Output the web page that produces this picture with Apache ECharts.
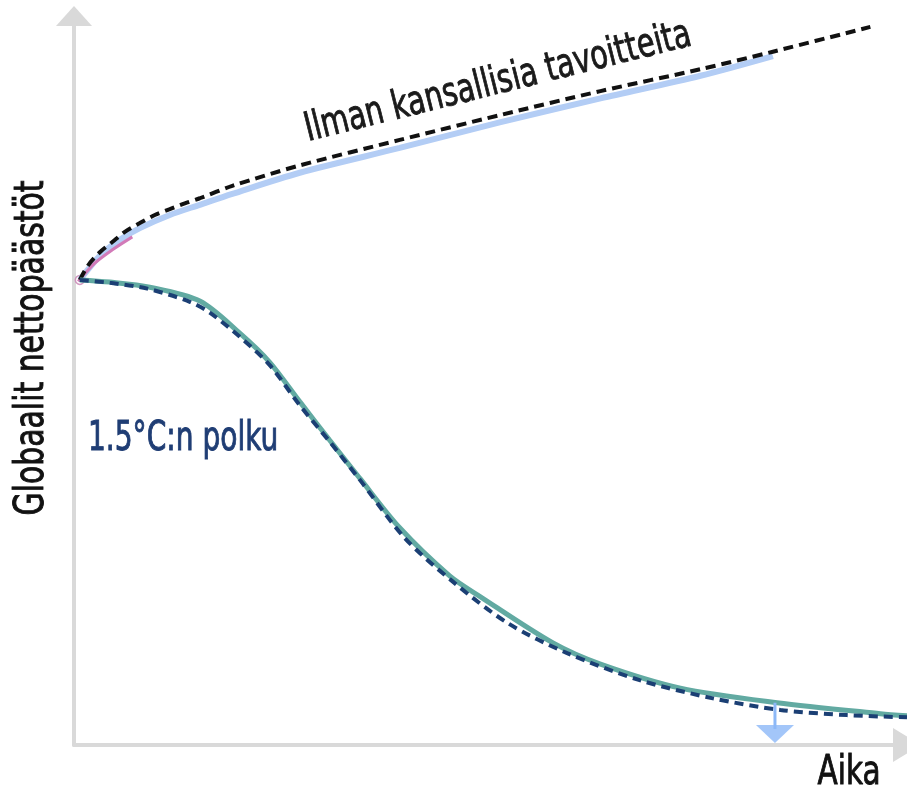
<!DOCTYPE html>
<html>
<head>
<meta charset="utf-8">
<script src="https://cdn.jsdelivr.net/npm/echarts@6/dist/echarts.min.js"></script>
<style>html,body{margin:0;padding:0;background:#fff}#c{width:907px;height:793px}</style>
</head>
<body>
<div id="c"></div>
<script>
// Texts
const xAxisName = 'Aika';
const yAxisName = 'Globaalit nettopäästöt';
const upperLabel = 'Ilman kansallisia tavoitteita';
const lowerLabel = '1.5°C:n polku';

// "No national targets" path (dashed black)
const noTargetX = [0.7, 1.7, 3.1, 4.6, 6.1, 7.9, 9.7, 11.5, 13.3, 15.1, 19.0, 27.1, 39.1, 51.1, 63.2, 75.2, 83.9, 95.6];
const noTargetY = [63.8, 65.8, 67.6, 69.0, 70.4, 71.6, 72.7, 73.5, 74.3, 75.0, 76.7, 79.5, 83.0, 86.4, 89.7, 92.7, 95.1, 98.5];
// light blue scenario band beneath it
const blueX = [0.7, 3.1, 5.5, 7.9, 11.5, 15.1, 19.0, 27.1, 39.1, 51.1, 63.2, 75.2, 83.9];
const blueY = [63.8, 67.1, 69.3, 70.9, 72.7, 74.1, 75.6, 78.5, 81.9, 85.4, 88.7, 91.8, 94.5];
// short pink scenario
const pinkX = [0.5, 2.5, 4.7, 7.0];
const pinkY = [63.6, 66.1, 68.0, 69.7];

// 1.5 °C pathway: teal band and dashed navy line
const tealX = [0.7, 4.3, 9.1, 15.1, 19.9, 23.5, 27.1, 30.7, 34.3, 39.1, 45.1, 48.7, 57.5, 63.2, 72.8, 84.4, 96.8, 100];
const tealY = [63.8, 63.5, 62.8, 60.9, 56.5, 52.5, 47.1, 41.8, 36.6, 29.8, 23.2, 20.4, 14.0, 11.1, 7.8, 5.8, 4.3, 4.0];
const pathX = [0.7, 4.3, 8.8, 13.9, 16.3, 19.9, 23.5, 27.1, 30.7, 34.3, 39.7, 45.7, 52.1, 59.2, 67.9, 76.7, 84.8, 92.8, 100];
const pathY = [63.8, 63.4, 62.6, 60.8, 59.3, 56.0, 52.1, 46.6, 41.6, 36.4, 28.4, 22.2, 16.7, 12.6, 8.9, 6.4, 4.8, 4.1, 3.8];

// downward arrow
const arrowX = [84.15, 84.15];
const arrowY = [5.8, 2.2];
const arrowHead = [84.15, 1.5];

const zip = (xs, ys) => xs.map((x, i) => [x, ys[i]]);

const font = "'Liberation Sans Narrow','DejaVu Sans Condensed','Roboto Condensed','Noto Sans',sans-serif";

const chart = echarts.init(document.getElementById('c'));
chart.setOption({
  animation: false,
  backgroundColor: '#fff',
  grid: { left: 74, right: 0, top: 16, bottom: 48 },
  xAxis: {
    type: 'value', min: 0, max: 100,
    axisLine: { show: true, symbol: ['none', 'triangle'], symbolSize: [34, 28], lineStyle: { color: '#d9d9d9', width: 4 } },
    axisTick: { show: false }, axisLabel: { show: false }, splitLine: { show: false }
  },
  yAxis: {
    type: 'value', min: 0, max: 100,
    axisLine: { show: true, symbol: ['none', 'triangle'], symbolSize: [36, 20], lineStyle: { color: '#d9d9d9', width: 4 } },
    axisTick: { show: false }, axisLabel: { show: false }, splitLine: { show: false }
  },
  series: [
    { type: 'line', data: zip(blueX, blueY), smooth: 0.3, showSymbol: false, clip: false,
      lineStyle: { color: '#b3cdf5', width: 6 } },
    { type: 'line', data: zip(pinkX, pinkY), smooth: 0.3, showSymbol: false, clip: false,
      lineStyle: { color: '#d27ab8', width: 3 } },
    { type: 'line', data: zip(noTargetX, noTargetY), smooth: 0.3, showSymbol: false, clip: false,
      lineStyle: { color: '#111', width: 4, type: [10, 6] } },
    { type: 'line', data: zip(tealX, tealY), smooth: 0.3, showSymbol: false, clip: false,
      lineStyle: { color: '#62aaa2', width: 5 } },
    { type: 'line', data: zip(pathX, pathY), smooth: 0.3, showSymbol: false, clip: false,
      lineStyle: { color: '#1b3f74', width: 4, type: [9, 6] } },
    { type: 'line', data: zip(arrowX, arrowY), showSymbol: false, clip: false,
      lineStyle: { color: '#8cb8f7', width: 3 } },
    { type: 'scatter', data: [arrowHead], symbol: 'triangle', symbolRotate: 180, symbolSize: [38, 18], clip: false,
      itemStyle: { color: '#8cb8f7' } },
    { type: 'scatter', data: [[noTargetX[0], noTargetY[0]]], symbol: 'circle', symbolSize: 9, clip: false,
      itemStyle: { color: '#fff', borderColor: '#c77fb0', borderWidth: 1.5 } }
  ],
  graphic: [
    { type: 'text', x: 498, y: 83, rotation: 14 * Math.PI / 180, scaleX: 0.8,
      style: { text: upperLabel, font: '40px ' + font, fill: '#1a1a1a', stroke: '#1a1a1a', lineWidth: 0.9, textAlign: 'center', textVerticalAlign: 'middle' } },
    { type: 'text', x: 88, y: 440, scaleX: 0.78,
      style: { text: lowerLabel, font: '40px ' + font, fill: '#1f3d74', stroke: '#1f3d74', lineWidth: 0.9, textAlign: 'left', textVerticalAlign: 'middle' } },
    { type: 'text', x: 33, y: 348, rotation: Math.PI / 2, scaleX: 0.83,
      style: { text: yAxisName, font: '40px ' + font, fill: '#111', stroke: '#111', lineWidth: 0.9, textAlign: 'center', textVerticalAlign: 'middle' } },
    { type: 'text', x: 849, y: 774, scaleX: 0.82,
      style: { text: xAxisName, font: '40px ' + font, fill: '#111', stroke: '#111', lineWidth: 0.9, textAlign: 'center', textVerticalAlign: 'middle' } }
  ]
});
</script>
</body>
</html>
